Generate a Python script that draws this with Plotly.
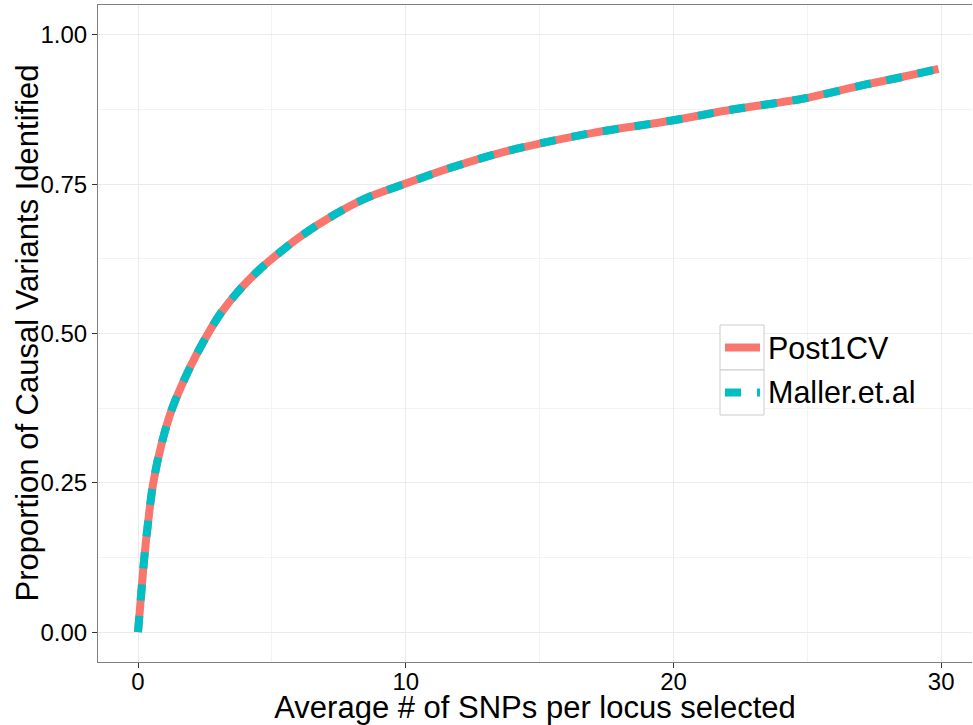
import plotly.graph_objects as go

# ---- data ----
snps_per_locus = [0, 0.075, 0.236, 0.385, 0.57, 0.885, 1.28, 1.75, 2.13, 2.58, 3.06, 3.75,
                  4.56, 5.0, 6.05, 7.3, 8.54, 10.0, 11.65, 13.5, 15.0, 17.0, 20.0, 22.2,
                  24.0, 25.0, 27.2, 28.5, 29.9]
post1cv = [0, 0.040, 0.125, 0.187, 0.25, 0.316, 0.375, 0.425, 0.46, 0.497, 0.532, 0.571,
           0.608, 0.625, 0.662, 0.698, 0.727, 0.751, 0.777, 0.802, 0.818, 0.836, 0.857,
           0.875, 0.887, 0.8945, 0.917, 0.929, 0.943]
maller = list(post1cv)
series_names = ["Post1CV", "Maller.et.al"]
x_ticks = [0, 10, 20, 30]
y_ticks = [0.0, 0.25, 0.5, 0.75, 1.0]
y_tick_labels = ["0.00", "0.25", "0.50", "0.75", "1.00"]
x_title = "Average # of SNPs per locus selected"
y_title = "Proportion of Causal Variants Identified"

RED = "#F8766D"
TEAL = "#00BFC4"
FONT = "Liberation Sans, Arial, sans-serif"

W, H = 973, 725
L, R, T, B = 98, 972, 5, 662  # panel pixel box


def px(xp):
    return (xp - L) / (R - L)


def py(yp):
    return (B - yp) / (B - T)


fig = go.Figure()
fig.add_trace(go.Scatter(x=snps_per_locus, y=post1cv, mode="lines", name=series_names[0],
                         line=dict(color=RED, width=8, shape="spline", smoothing=1.0),
                         showlegend=False))
fig.add_trace(go.Scatter(x=snps_per_locus, y=maller, mode="lines", name=series_names[1],
                         line=dict(color=TEAL, width=8, dash="16px,16px", shape="spline", smoothing=1.0),
                         showlegend=False))

grid_major = "#EBEBEB"
grid_minor = "#F3F3F3"

fig.update_layout(
    width=W, height=H,
    margin=dict(l=L, r=W - R, t=T, b=H - B),
    paper_bgcolor="white", plot_bgcolor="white",
    font=dict(family=FONT, color="black"),
    xaxis=dict(
        range=[-1.494, 31.15], tickvals=x_ticks, ticktext=[str(v) for v in x_ticks],
        showgrid=True, gridcolor=grid_major, gridwidth=1,
        minor=dict(tickvals=[5, 15, 25], showgrid=True, gridcolor=grid_minor, gridwidth=1, ticklen=0),
        ticks="outside", ticklen=5, tickcolor="#333333", tickwidth=1,
        tickfont=dict(size=24, color="black", family=FONT),
        ticklabelstandoff=-7,
        showline=True, linecolor="#7F7F7F", linewidth=1, mirror=True,
        zeroline=False,
        title=dict(text=x_title, font=dict(size=31, family=FONT, color="black"), standoff=1),
    ),
    yaxis=dict(
        range=[-0.05, 1.05], tickvals=y_ticks, ticktext=y_tick_labels,
        showgrid=True, gridcolor=grid_major, gridwidth=1,
        minor=dict(tickvals=[0.125, 0.375, 0.625, 0.875], showgrid=True, gridcolor=grid_minor, gridwidth=1, ticklen=0),
        ticks="outside", ticklen=5, tickcolor="#333333", tickwidth=1,
        tickfont=dict(size=24, color="black", family=FONT),
        showline=True, linecolor="#7F7F7F", linewidth=1, mirror=False,
        zeroline=False,
    ),
)

# ---- y-axis title placed like ggplot's ----
annotations = [dict(xref="paper", yref="paper", x=px(27), y=0.5, text=y_title, textangle=-90,
                    showarrow=False, xanchor="center", yanchor="middle",
                    font=dict(size=31, family=FONT, color="black"))]

# ---- legend drawn in ggplot style ----
key_x0, key_x1 = 720, 764
rows = [(325, 370), (370, 415)]
styles = [dict(color=RED, width=8, dash="solid"), dict(color=TEAL, width=8, dash="16px,16px")]
shapes = []
for (y0, y1), st, name in zip(rows, styles, series_names):
    shapes.append(dict(type="rect", xref="paper", yref="paper",
                       x0=px(key_x0), x1=px(key_x1), y0=py(y1), y1=py(y0),
                       line=dict(color="#CCCCCC", width=1), fillcolor="white", layer="above"))
    ym = (y0 + y1) / 2
    shapes.append(dict(type="line", xref="paper", yref="paper",
                       x0=px(725), x1=px(760), y0=py(ym), y1=py(ym),
                       line=st, layer="above"))
    annotations.append(dict(xref="paper", yref="paper", x=px(766), y=py(ym), text=name,
                            showarrow=False, xanchor="left", yanchor="middle",
                            font=dict(size=30.5, family=FONT, color="black")))
fig.update_layout(shapes=shapes, annotations=annotations)

fig.write_html("out.html")
